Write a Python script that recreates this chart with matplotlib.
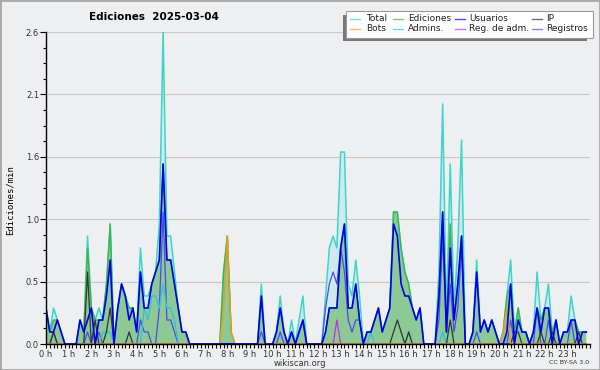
# Ediciones por minuto, 2025-03-04 (estilo wikiscan)
import numpy as np
import matplotlib.pyplot as plt
from matplotlib.patches import Rectangle
from matplotlib.lines import Line2D
from matplotlib.ticker import MultipleLocator, FormatStrFormatter

# valores por tramos de 10 minutos (6 por hora), ediciones/min
total = [
    0.3, 0.1, 0.3, 0.2, 0.1, 0.0,   # 0 h
    0.0, 0.0, 0.0, 0.2, 0.1, 0.9,   # 1 h
    0.3, 0.2, 0.3, 0.2, 0.5, 1.0,   # 2 h
    0.0, 0.3, 0.5, 0.4, 0.3, 0.3,   # 3 h
    0.1, 0.8, 0.4, 0.4, 0.5, 0.6,   # 4 h
    1.0, 2.6, 0.9, 0.9, 0.6, 0.3,   # 5 h
    0.1, 0.1, 0.0, 0.0, 0.0, 0.0,   # 6 h
    0.0, 0.0, 0.0, 0.0, 0.0, 0.6,   # 7 h
    0.9, 0.1, 0.0, 0.0, 0.0, 0.0,   # 8 h
    0.0, 0.0, 0.0, 0.5, 0.0, 0.0,   # 9 h
    0.0, 0.1, 0.4, 0.1, 0.0, 0.2,   # 10 h
    0.0, 0.2, 0.4, 0.0, 0.0, 0.0,   # 11 h
    0.0, 0.0, 0.4, 0.8, 0.9, 0.8,   # 12 h
    1.6, 1.6, 0.5, 0.4, 0.7, 0.4,   # 13 h
    0.0, 0.1, 0.1, 0.2, 0.3, 0.1,   # 14 h
    0.2, 0.3, 1.1, 1.1, 0.8, 0.6,   # 15 h
    0.5, 0.3, 0.2, 0.3, 0.0, 0.0,   # 16 h
    0.0, 0.0, 0.6, 2.0, 0.2, 1.5,   # 17 h
    0.3, 0.8, 1.7, 0.0, 0.0, 0.1,   # 18 h
    0.7, 0.1, 0.2, 0.1, 0.2, 0.1,   # 19 h
    0.0, 0.1, 0.4, 0.7, 0.1, 0.3,   # 20 h
    0.1, 0.1, 0.0, 0.1, 0.6, 0.2,   # 21 h
    0.3, 0.5, 0.1, 0.2, 0.0, 0.1,   # 22 h
    0.1, 0.4, 0.2, 0.1, 0.1, 0.1,   # 23 h
]
ediciones = [
    0.3, 0.1, 0.2, 0.2, 0.1, 0.0,
    0.0, 0.0, 0.0, 0.2, 0.1, 0.8,
    0.3, 0.2, 0.2, 0.2, 0.5, 1.0,
    0.0, 0.3, 0.5, 0.4, 0.3, 0.3,
    0.1, 0.6, 0.3, 0.3, 0.5, 0.6,
    0.7, 1.5, 0.7, 0.7, 0.5, 0.3,
    0.1, 0.1, 0.0, 0.0, 0.0, 0.0,
    0.0, 0.0, 0.0, 0.0, 0.0, 0.6,
    0.9, 0.1, 0.0, 0.0, 0.0, 0.0,
    0.0, 0.0, 0.0, 0.4, 0.0, 0.0,
    0.0, 0.1, 0.3, 0.1, 0.0, 0.1,
    0.0, 0.1, 0.2, 0.0, 0.0, 0.0,
    0.0, 0.0, 0.1, 0.3, 0.3, 0.3,
    0.8, 1.0, 0.3, 0.3, 0.5, 0.2,
    0.0, 0.1, 0.1, 0.2, 0.3, 0.1,
    0.2, 0.3, 1.1, 1.1, 0.8, 0.6,
    0.5, 0.3, 0.2, 0.3, 0.0, 0.0,
    0.0, 0.0, 0.4, 1.1, 0.1, 1.0,
    0.2, 0.5, 0.9, 0.0, 0.0, 0.1,
    0.6, 0.1, 0.2, 0.1, 0.2, 0.1,
    0.0, 0.1, 0.4, 0.5, 0.1, 0.3,
    0.1, 0.1, 0.0, 0.1, 0.3, 0.2,
    0.3, 0.3, 0.1, 0.2, 0.0, 0.1,
    0.1, 0.2, 0.2, 0.1, 0.1, 0.1,
]
usuarios = [
    0.3, 0.1, 0.1, 0.2, 0.1, 0.0,
    0.0, 0.0, 0.0, 0.2, 0.1, 0.2,
    0.3, 0.0, 0.2, 0.2, 0.4, 0.7,
    0.0, 0.3, 0.5, 0.4, 0.2, 0.3,
    0.1, 0.6, 0.3, 0.3, 0.5, 0.6,
    0.7, 1.5, 0.7, 0.7, 0.5, 0.3,
    0.1, 0.1, 0.0, 0.0, 0.0, 0.0,
    0.0, 0.0, 0.0, 0.0, 0.0, 0.0,
    0.0, 0.0, 0.0, 0.0, 0.0, 0.0,
    0.0, 0.0, 0.0, 0.4, 0.0, 0.0,
    0.0, 0.1, 0.3, 0.1, 0.0, 0.1,
    0.0, 0.1, 0.2, 0.0, 0.0, 0.0,
    0.0, 0.0, 0.1, 0.3, 0.3, 0.3,
    0.8, 1.0, 0.3, 0.3, 0.5, 0.2,
    0.0, 0.1, 0.1, 0.2, 0.3, 0.1,
    0.2, 0.3, 1.0, 0.9, 0.5, 0.4,
    0.4, 0.3, 0.2, 0.3, 0.0, 0.0,
    0.0, 0.0, 0.4, 1.1, 0.1, 0.8,
    0.2, 0.5, 0.9, 0.0, 0.0, 0.1,
    0.6, 0.1, 0.2, 0.1, 0.2, 0.1,
    0.0, 0.0, 0.1, 0.5, 0.0, 0.2,
    0.1, 0.1, 0.0, 0.1, 0.3, 0.1,
    0.3, 0.3, 0.0, 0.2, 0.0, 0.1,
    0.1, 0.2, 0.2, 0.0, 0.1, 0.1,
]
ip = [
    0.0, 0.0, 0.1, 0.0, 0.0, 0.0,
    0.0, 0.0, 0.0, 0.0, 0.0, 0.6,
    0.0, 0.2, 0.0, 0.0, 0.1, 0.3,
    0.0, 0.0, 0.0, 0.0, 0.1, 0.0,
    0.0, 0.0, 0.0, 0.0, 0.0, 0.0,
    0.0, 0.0, 0.0, 0.0, 0.0, 0.0,
    0.0, 0.0, 0.0, 0.0, 0.0, 0.0,
    0.0, 0.0, 0.0, 0.0, 0.0, 0.0,
    0.0, 0.0, 0.0, 0.0, 0.0, 0.0,
    0.0, 0.0, 0.0, 0.0, 0.0, 0.0,
    0.0, 0.0, 0.0, 0.0, 0.0, 0.0,
    0.0, 0.0, 0.0, 0.0, 0.0, 0.0,
    0.0, 0.0, 0.0, 0.0, 0.0, 0.0,
    0.0, 0.0, 0.0, 0.0, 0.0, 0.0,
    0.0, 0.0, 0.0, 0.0, 0.0, 0.0,
    0.0, 0.0, 0.1, 0.2, 0.1, 0.0,
    0.1, 0.0, 0.0, 0.0, 0.0, 0.0,
    0.0, 0.0, 0.0, 0.0, 0.0, 0.2,
    0.0, 0.0, 0.0, 0.0, 0.0, 0.0,
    0.0, 0.0, 0.0, 0.0, 0.0, 0.0,
    0.0, 0.0, 0.0, 0.0, 0.1, 0.1,
    0.0, 0.0, 0.0, 0.0, 0.0, 0.1,
    0.0, 0.0, 0.1, 0.0, 0.0, 0.0,
    0.0, 0.0, 0.0, 0.1, 0.0, 0.0,
]
bots = [0.0] * 47 + [0.3, 0.9, 0.1] + [0.0] * 71 + [0.1, 0.3] + [0.0] * 21
admins = [
    0.0, 0.0, 0.0, 0.0, 0.0, 0.0,
    0.0, 0.0, 0.0, 0.0, 0.0, 0.0,
    0.0, 0.0, 0.0, 0.1, 0.1, 0.1,
    0.0, 0.0, 0.0, 0.0, 0.0, 0.0,
    0.0, 0.0, 0.3, 0.2, 0.4, 0.4,
    0.3, 0.5, 0.3, 0.3, 0.2, 0.0,
    0.0, 0.0, 0.0, 0.0, 0.0, 0.0,
    0.0, 0.0, 0.0, 0.0, 0.0, 0.0,
    0.0, 0.0, 0.0, 0.0, 0.0, 0.0,
    0.0, 0.0, 0.0, 0.0, 0.0, 0.0,
    0.0, 0.0, 0.0, 0.0, 0.0, 0.0,
    0.0, 0.0, 0.0, 0.0, 0.0, 0.0,
    0.0, 0.0, 0.0, 0.0, 0.0, 0.0,
    0.0, 0.0, 0.0, 0.0, 0.0, 0.0,
    0.0, 0.0, 0.1, 0.0, 0.0, 0.0,
    0.0, 0.0, 0.0, 0.0, 0.0, 0.0,
    0.1, 0.0, 0.0, 0.0, 0.0, 0.0,
    0.0, 0.0, 0.0, 0.1, 0.0, 0.0,
    0.0, 0.0, 0.0, 0.0, 0.0, 0.0,
    0.0, 0.0, 0.0, 0.0, 0.0, 0.0,
    0.0, 0.0, 0.0, 0.0, 0.0, 0.2,
    0.1, 0.1, 0.0, 0.0, 0.0, 0.0,
    0.0, 0.0, 0.0, 0.0, 0.0, 0.0,
    0.0, 0.0, 0.0, 0.0, 0.0, 0.0,
]
reg_adm = [0.0] * 77 + [0.2] + [0.0] * 66
registros = [
    0.0, 0.0, 0.1, 0.0, 0.0, 0.0,
    0.0, 0.0, 0.0, 0.0, 0.0, 0.1,
    0.0, 0.0, 0.1, 0.0, 0.0, 0.0,
    0.0, 0.0, 0.0, 0.0, 0.0, 0.0,
    0.0, 0.2, 0.1, 0.1, 0.0, 0.0,
    0.3, 1.1, 0.2, 0.2, 0.1, 0.0,
    0.0, 0.0, 0.0, 0.0, 0.0, 0.0,
    0.0, 0.0, 0.0, 0.0, 0.0, 0.0,
    0.0, 0.0, 0.0, 0.0, 0.0, 0.0,
    0.0, 0.0, 0.0, 0.1, 0.0, 0.0,
    0.0, 0.0, 0.1, 0.0, 0.0, 0.1,
    0.0, 0.1, 0.2, 0.0, 0.0, 0.0,
    0.0, 0.0, 0.3, 0.5, 0.6, 0.5,
    0.8, 0.6, 0.2, 0.1, 0.2, 0.2,
    0.0, 0.0, 0.0, 0.0, 0.0, 0.0,
    0.0, 0.0, 0.0, 0.0, 0.0, 0.0,
    0.0, 0.0, 0.0, 0.0, 0.0, 0.0,
    0.0, 0.0, 0.2, 0.9, 0.1, 0.5,
    0.1, 0.3, 0.8, 0.0, 0.0, 0.0,
    0.1, 0.0, 0.0, 0.0, 0.0, 0.0,
    0.0, 0.0, 0.0, 0.2, 0.0, 0.0,
    0.0, 0.0, 0.0, 0.0, 0.3, 0.0,
    0.0, 0.2, 0.0, 0.0, 0.0, 0.0,
    0.0, 0.2, 0.0, 0.0, 0.0, 0.0,
]

hour_labels = [f"{h} h" for h in range(24)]
y_ticks = np.linspace(0, 2.6, 6)

c_total = "#3fd4c8"
c_edic = "#3cb44a"
c_users = "#0000e8"
c_ip = "#333333"
c_bots = "#f39a1c"
c_admins = "#30c0e0"
c_regadm = "#c030e0"
c_regs = "#4a4af0"

bg = "#eeeff1"
fig = plt.figure(figsize=(6, 3.7), dpi=100, facecolor=bg)
ax = fig.add_axes([46 / 600, 26 / 370, 544 / 600, 312 / 370])
ax.set_facecolor(bg)

x = np.arange(len(total)) / 6
zero = np.zeros(len(total))

ax.fill_between(x, zero, np.array(total), facecolor="#cfeaee",
                edgecolor="none", zorder=1.2)
ax.fill_between(x, zero, np.array(ediciones), facecolor="#8cc994",
                edgecolor="none", zorder=1.4)
ax.plot(x, total, color=c_total, lw=1.1, zorder=2)
ax.plot(x, ediciones, color=c_edic, lw=1.0, zorder=2.1)
ax.plot(x, registros, color=c_regs, lw=0.9, zorder=2.2)
ax.plot(x, admins, color=c_admins, lw=0.9, zorder=2.3)
ax.plot(x, reg_adm, color=c_regadm, lw=0.9, zorder=2.3)
ax.plot(x, ip, color=c_ip, lw=0.9, zorder=2.4)
ax.plot(x, bots, color=c_bots, lw=1.0, zorder=2.5)
ax.plot(x, usuarios, color=c_users, lw=1.2, zorder=2.6)

ax.set_xlim(0, 24)
ax.set_ylim(0, 2.6)
ax.set_xticks(np.arange(24))
ax.set_xticklabels(hour_labels)
ax.xaxis.set_minor_locator(MultipleLocator(1 / 6))
ax.set_yticks(y_ticks)
ax.yaxis.set_major_formatter(FormatStrFormatter("%.1f"))
ax.yaxis.set_minor_locator(MultipleLocator(0.13))
ax.yaxis.grid(True, color="#c8c8c8", lw=0.8, zorder=0.5)
ax.set_axisbelow(True)
for s in ["top", "right"]:
    ax.spines[s].set_visible(False)
for s in ["left", "bottom"]:
    ax.spines[s].set_linewidth(1.0)
    ax.spines[s].set_zorder(5)
ax.tick_params(axis="x", which="both", direction="out", length=3, width=0.8,
               labelsize=6, pad=1, labelcolor="#333333")
ax.tick_params(axis="y", which="major", direction="out", length=4, width=0.8,
               labelsize=6, pad=1, labelcolor="#333333")
ax.tick_params(axis="y", which="minor", direction="out", length=2.5, width=0.8)

fig.text(154 / 600, 1 - 17 / 370, "Ediciones  2025-03-04", fontsize=7.5,
         fontweight="bold", ha="center", va="center")
fig.text(10 / 600, 1 - 200 / 370, "Ediciones/min", rotation=90, fontsize=6.5,
         family="DejaVu Sans Mono", ha="center", va="center")
fig.text(300 / 600, 1 - 363 / 370, "wikiscan.org", fontsize=6,
         color="#333333", ha="center", va="center")
fig.text(589 / 600, 1 - 363 / 370, "CC BY-SA 3.0", fontsize=4.5,
         color="#333333", ha="right", va="center")

# leyenda con sombra
def fx(px):
    return px / 600

def fy(py):
    return 1 - py / 370

fig.add_artist(Rectangle((fx(343), fy(41)), fx(587) - fx(343), fy(15) - fy(41),
                         transform=fig.transFigure, facecolor="#777777", lw=0))
fig.add_artist(Rectangle((fx(346), fy(37.5)), fx(593) - fx(346), fy(11) - fy(37.5),
                         transform=fig.transFigure, facecolor="white",
                         edgecolor="#999999", lw=0.8))
legend_names = ["Total", "Ediciones", "Usuarios", "IP",
                "Bots", "Admins.", "Reg. de adm.", "Registros"]
legend_colors = [c_total, c_edic, c_users, c_ip,
                 c_bots, c_admins, c_regadm, c_regs]
line_x = [350, 393, 455, 532]
text_x = [366, 408, 469, 546]
row_y = [18.5, 28.5]
for k, (name, col) in enumerate(zip(legend_names, legend_colors)):
    r, c = divmod(k, 4)
    fig.add_artist(Line2D([fx(line_x[c]), fx(line_x[c] + 10)], [fy(row_y[r])] * 2,
                          transform=fig.transFigure, color=col, lw=1, alpha=0.7))
    fig.text(fx(text_x[c]), fy(row_y[r]), name, fontsize=6.5, color="#222222",
             ha="left", va="center")

fig.add_artist(Rectangle((0, 0), 1, 1, transform=fig.transFigure, fill=False,
                         edgecolor="#a8a8a8", lw=2))

fig.savefig("out.png", dpi=100, facecolor=bg)
